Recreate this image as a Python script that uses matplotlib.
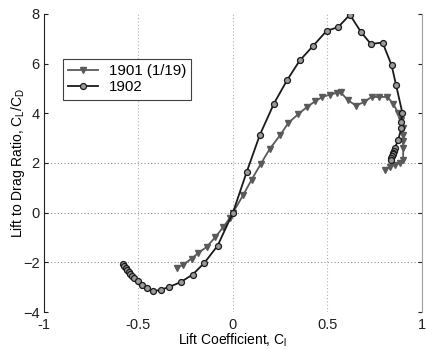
import matplotlib
matplotlib.use("Agg")
import matplotlib.pyplot as plt

plt.rcParams['font.family'] = ['Liberation Sans', 'DejaVu Sans']

# 1901 (1/19) series: lift coefficient vs L/D
cl_1901 = [-0.298, -0.262, -0.219, -0.183, -0.139, -0.095, -0.051, -0.016, 0.0,
           0.055, 0.099, 0.148, 0.196, 0.249, 0.293, 0.346, 0.390, 0.434, 0.474,
           0.513, 0.549, 0.571, 0.610, 0.651, 0.693, 0.734, 0.775, 0.818, 0.848,
           0.875, 0.892, 0.901, 0.898, 0.901, 0.901, 0.901, 0.884, 0.857, 0.831, 0.804]
ld_1901 = [-2.23, -2.09, -1.85, -1.62, -1.38, -1.00, -0.58, -0.21, 0.0,
           0.72, 1.33, 1.97, 2.58, 3.11, 3.61, 3.97, 4.24, 4.48, 4.66,
           4.75, 4.82, 4.84, 4.52, 4.31, 4.45, 4.66, 4.66, 4.66, 4.38,
           4.01, 3.74, 3.41, 3.14, 2.87, 2.60, 2.13, 2.00, 1.93, 1.84, 1.73]

# 1902 series
cl_1902 = [-0.580, -0.575, -0.568, -0.560, -0.552, -0.543, -0.533, -0.522,
           -0.501, -0.483, -0.457, -0.422, -0.381, -0.339, -0.275, -0.213,
           -0.152, -0.081, 0.0, 0.072, 0.143, 0.217, 0.287, 0.354, 0.425,
           0.496, 0.557, 0.619, 0.677, 0.730, 0.792, 0.840, 0.863, 0.897,
           0.889, 0.892, 0.875, 0.857, 0.852, 0.848, 0.845, 0.842, 0.838, 0.835]
ld_1902 = [-2.08, -2.15, -2.23, -2.31, -2.39, -2.47, -2.55, -2.63,
           -2.76, -2.90, -3.03, -3.17, -3.10, -3.00, -2.79, -2.49,
           -2.03, -1.33, 0.0, 1.62, 3.14, 4.39, 5.34, 6.13, 6.72,
           7.32, 7.47, 7.97, 7.28, 6.79, 6.85, 5.93, 5.15, 4.01,
           3.67, 3.41, 2.94, 2.60, 2.50, 2.42, 2.35, 2.28, 2.20, 2.13]

x_ticks = [-1, -0.5, 0, 0.5, 1]
x_labels = ['-1', '-0.5', '0', '0.5', '1']
y_ticks = [-4, -2, 0, 2, 4, 6, 8]

fig = plt.figure(figsize=(4.27, 3.49), dpi=100)
ax = fig.add_axes([0.103, 0.106, 0.885, 0.854])

for gx in [-0.5, 0, 0.5]:
    ax.axvline(gx, color='#b0b0b0', lw=0.8, ls=(0, (1, 2)), zorder=0)
for gy in [-2, 0, 2]:
    ax.axhline(gy, color='#909090', lw=0.8, ls=(0, (1, 2)), zorder=0)

ax.plot(cl_1901, ld_1901, color='#5a5a5a', lw=1.3, marker='v', ms=4.3,
        mfc='#5a5a5a', mec='#5a5a5a', label='1901 (1/19)')
ax.plot(cl_1902, ld_1902, color='#1a1a1a', lw=1.3, marker='o', ms=4.3,
        mfc='#9a9a9a', mec='#1a1a1a', mew=0.9, label='1902')

ax.set_xlim(-1, 1)
ax.set_ylim(-4, 8)
ax.set_xticks(x_ticks)
ax.set_xticklabels(x_labels)
ax.set_yticks(y_ticks)

ax.spines['top'].set_visible(False)
ax.spines['bottom'].set_visible(False)
ax.spines['left'].set_color('#202020')
ax.spines['right'].set_color('#a0a0a0')
ax.tick_params(axis='both', direction='in', length=3, labelsize=10.5,
               colors='#202020')
ax.tick_params(axis='x', length=0, pad=4)
ax.tick_params(axis='y', right=True, pad=3)

ax.set_xlabel('Lift Coefficient, C$_\\mathregular{l}$', fontsize=10, labelpad=0)
ax.set_ylabel('Lift to Drag Ratio, C$_\\mathregular{L}$/C$_\\mathregular{D}$',
              fontsize=10, labelpad=-3)

leg = ax.legend(loc='upper left', bbox_to_anchor=(0.05, 0.849), fontsize=10.8,
                fancybox=False, framealpha=1, edgecolor='#404040',
                handlelength=2.0, borderpad=0.35, labelspacing=0.15,
                handletextpad=0.7, borderaxespad=0)
leg.get_frame().set_linewidth(0.8)

fig.savefig('out.png', dpi=100)
